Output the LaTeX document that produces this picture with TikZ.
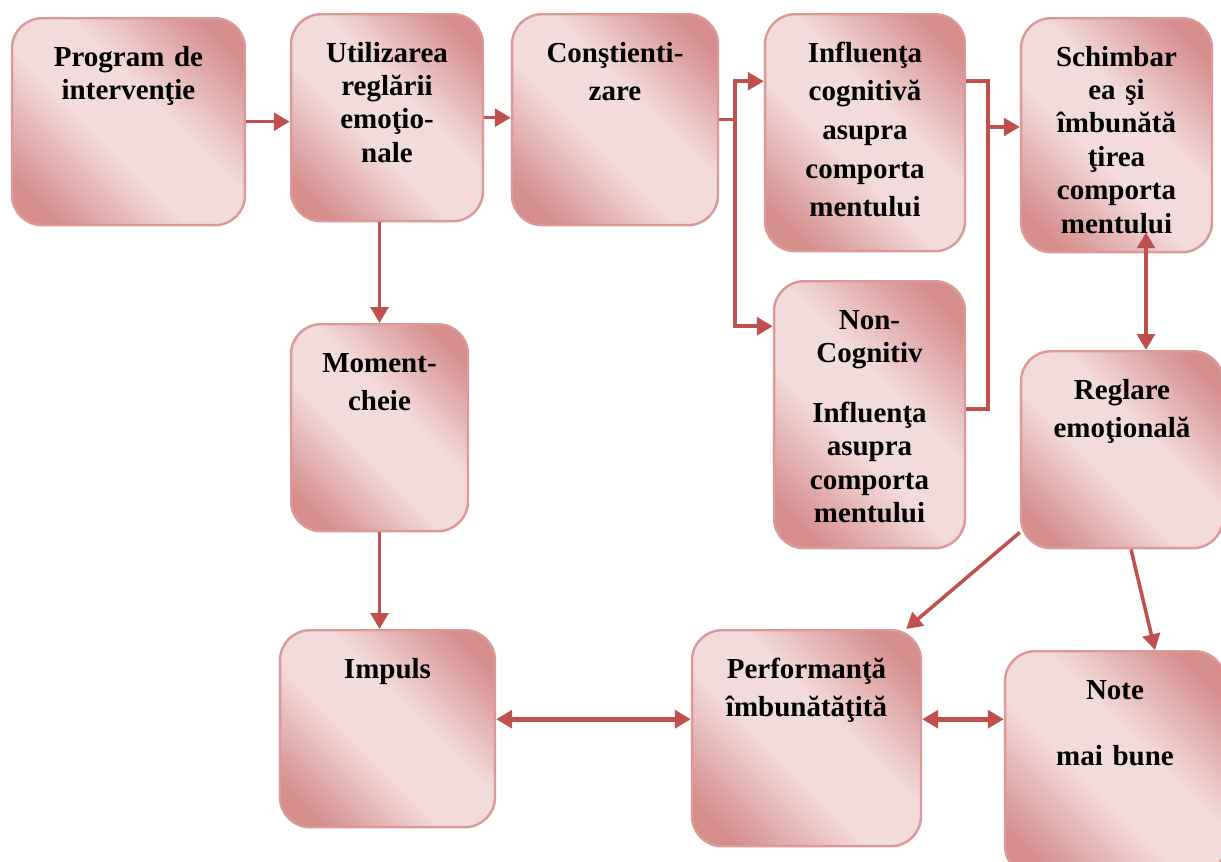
\documentclass[tikz,border=0pt]{standalone}
\usepackage{fontspec}
\setmainfont{Liberation Serif}
\usetikzlibrary{arrows.meta}
\definecolor{boxdark}{HTML}{D68E8D}
\definecolor{boxlight}{HTML}{F2DCDB}
\definecolor{boxline}{HTML}{DB9A99}
\definecolor{arrowred}{HTML}{C0504D}
\pgfdeclarehorizontalshading{boxshade}{100bp}{color(0bp)=(boxdark); color(22bp)=(boxdark); color(43bp)=(boxlight); color(57bp)=(boxlight); color(78bp)=(boxdark); color(100bp)=(boxdark)}

\begin{document}
\begin{tikzpicture}[x=0.02cm,y=-0.02cm,>={Triangle[length=9pt,width=10pt]}]
\tikzstyle{box}=[rectangle,rounded corners=0.6cm,draw=boxline,line width=1.4pt,shading=boxshade,shading angle=45,anchor=north,inner sep=0pt,align=center,font=\fontsize{16.5}{19}\selectfont\bfseries,text height=0.96cm,text depth=#1]
\tikzstyle{wide}=[font=\fontsize{16.5}{22}\selectfont\bfseries]
\tikzstyle{link}=[draw=arrowred,line width=2pt]
\tikzstyle{bold link}=[link,line width=2.8pt]
\useasboundingbox (0,0) rectangle (1221,862);

\node[box=3.18cm,text width=4.66cm](prog) at (128.5,17) {Program de\\intervenţie};
\node[box=3.18cm,text width=3.84cm](util) at (387,13) {Utilizarea\\reglării\\emoţio-\\nale};
\node[box=3.26cm,text width=4.12cm,wide](const) at (615,13) {Conştienti-\\zare};
\node[box=3.78cm,text width=4cm,wide](infl) at (865,13) {Influenţa\\cognitivă\\asupra\\comporta\\mentului};
\node[box=3.72cm,text width=3.82cm](schimb) at (1116.5,17) {Schimbar\\ea şi\\îmbunătă\\ţirea\\comporta\\mentului};
\node[box=4.38cm,text width=3.82cm](noncog) at (869.5,280) {Non-\\Cognitiv\\[15pt]Influenţa\\asupra\\comporta\\mentului};
\node[box=2.98cm,text width=4.04cm,wide](reglare) at (1122,350) {Reglare\\emoţională};
\node[box=3.18cm,text width=3.54cm,wide](moment) at (379.5,323) {Moment-\\cheie};
\node[box=2.98cm,text width=4.3cm](impuls) at (387.5,629) {Impuls};
\node[box=3.36cm,text width=4.58cm,wide](perf) at (806.5,629) {Performanţă\\îmbunătăţită};
\node[box=3.54cm,text width=4.4cm,wide](note) at (1115,650) {Note\\[16pt]mai bune};

\coordinate (fork) at (735,118);
\coordinate (join) at (988,127);

\draw[link,->] (prog.east) -- (prog.east -| util.west);
\draw[link,->] (util.east) -- (util.east -| const.west);
\draw[link] (const.east) -- (const.east -| fork);
\draw[link,->] (fork) |- ([yshift=1.03cm]infl.west);
\draw[link,->] (fork) |- ([yshift=1.77cm]noncog.west);
\draw[link] ([yshift=1.03cm]infl.east) -| (join) |- ([yshift=0.11cm]noncog.east);
\draw[link,->] (join) -- (join -| schimb.west);
\draw[link,<->] ([xshift=0.59cm,yshift=0.42cm]schimb.south) -- ([xshift=0.59cm]schimb.south |- reglare.north);
\draw[link,->] (util.south -| moment.north) -- (moment.north);
\draw[link,->] (moment.south) -- (moment.south |- impuls.north);
\draw[link,->] ([yshift=0.34cm]reglare.south west) -- ([xshift=-0.32cm]perf.north east);
\draw[link,->] ([xshift=0.18cm]reglare.south) -- ([xshift=0.8cm]note.north);
\draw[bold link,<->] ([yshift=0.19cm]impuls.east) -- ([yshift=0.19cm]impuls.east -| perf.west);
\draw[bold link,<->] ([yshift=0.19cm]impuls.east -| perf.east) -- ([yshift=0.19cm]impuls.east -| note.west);
\end{tikzpicture}
\end{document}
